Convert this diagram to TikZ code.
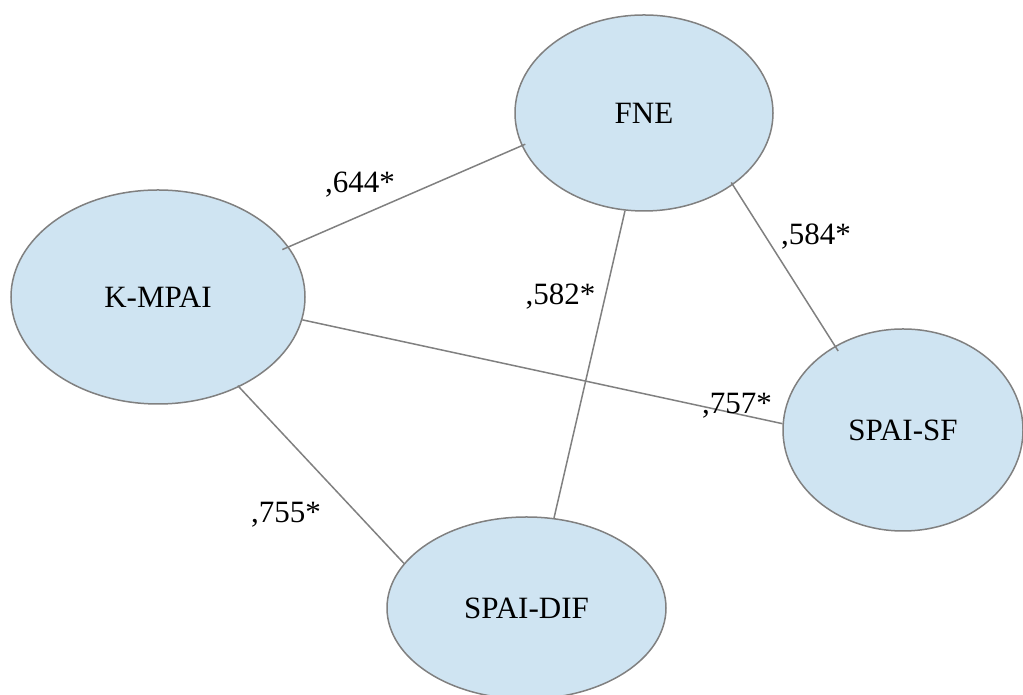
\documentclass[tikz,border=0pt]{standalone}
\usepackage{fontspec}
\setmainfont{Liberation Serif}
\usetikzlibrary{shapes.geometric}
\definecolor{bubblefill}{RGB}{207,228,242}
\definecolor{edgegray}{RGB}{128,128,128}
\begin{document}
\begin{tikzpicture}[x=1pt,y=1pt,
  bubble/.style={ellipse,draw=edgegray,line width=1.5pt,fill=bubblefill,
    inner sep=0pt,font=\fontsize{31}{37}\selectfont},
  link/.style={draw=edgegray,line width=1.5pt},
  weight/.style={anchor=base,inner sep=0pt,font=\fontsize{31}{37}\selectfont}]
\useasboundingbox (0,0) rectangle (1023,695);

% constructs
\node[bubble,minimum width=258pt,minimum height=196pt] (fne)  at (644,582)   {FNE};
\node[bubble,minimum width=294pt,minimum height=214pt] (kmpai) at (158,398)  {K-MPAI};
\node[bubble,minimum width=240pt,minimum height=202pt] (sf)   at (903,265)   {SPAI-SF};
\node[bubble,minimum width=279pt,minimum height=182pt] (dif)  at (526.5,87)  {SPAI-DIF};

% correlations, drawn over the ellipses
\draw[link,shorten <=-7pt,shorten >=-4pt] (kmpai.21.3) -- (fne.195.2);
\draw[link,shorten <=-3pt,shorten >=-6pt] (fne.321.6) -- (sf.129.8);
\draw[link] (fne.259.6) -- (dif.73.6);
\draw[link] (kmpai.351.5) -- (sf.177.1);
\draw[link,shorten <=-2pt] (kmpai.312.6) -- (dif.160);

% coefficients
\node[weight] (w1) at (360,502)   {,644*};
\node[weight] (w2) at (816,450)   {,584*};
\node[weight] (w3) at (560.5,390) {,582*};
\node[weight] (w4) at (737,281)   {,757*};
\node[weight] (w5) at (286,172)   {,755*};
\end{tikzpicture}
\end{document}
